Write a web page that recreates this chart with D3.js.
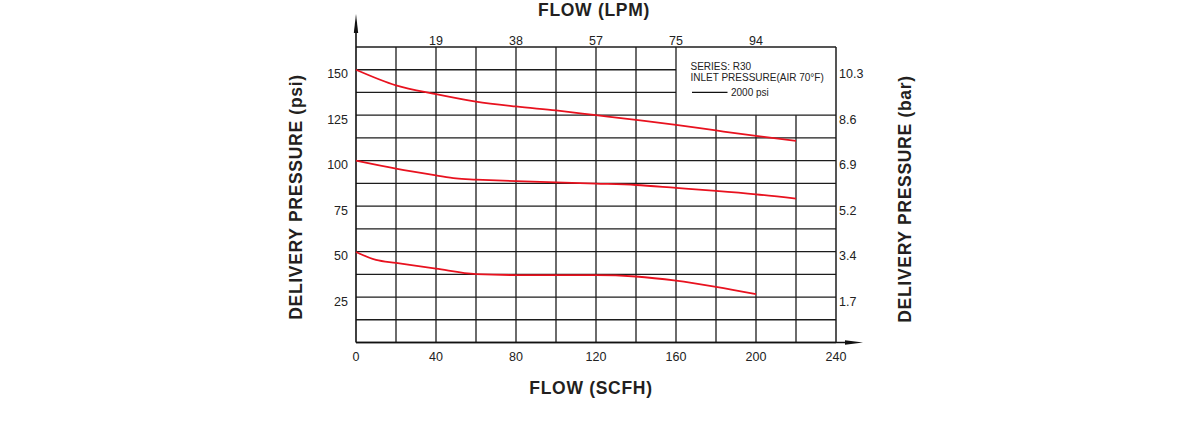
<!DOCTYPE html>
<html>
<head>
<meta charset="utf-8">
<script src="https://cdn.jsdelivr.net/npm/d3@7"></script>
<style>
  html, body { margin: 0; padding: 0; background: #fff; }
  svg { display: block; font-family: "Liberation Sans", Arial, sans-serif; }
</style>
</head>
<body>
<svg id="chart" width="1200" height="430"></svg>
<script>
// ---- data ----
const scfhTicks = [0, 40, 80, 120, 160, 200, 240];
const lpmTickPos = [40, 80, 120, 160, 200];
const lpmTickLabels = ["19", "38", "57", "75", "94"];
const psiTicks = [25, 50, 75, 100, 125, 150];
const barTickLabels = ["1.7", "3.4", "5.2", "6.9", "8.6", "10.3"];

const flowHigh = [0, 20, 40, 60, 80, 100, 120, 140, 160, 180, 200, 220];
const pressure150 = [150, 141.4, 136.6, 132.5, 129.8, 127.6, 125.0, 122.4, 119.7, 116.6, 113.6, 110.9];
const flowMid = [0, 20, 40, 50, 60, 80, 100, 120, 140, 160, 180, 200, 220];
const pressure100 = [100, 95.6, 91.9, 90.2, 89.6, 88.7, 88.1, 87.4, 86.6, 85.0, 83.4, 81.5, 79.1];
const flowLow = [0, 10, 20, 40, 60, 80, 100, 120, 140, 160, 180, 200];
const pressure50 = [49.8, 45.4, 43.8, 40.6, 37.6, 37.1, 37.1, 37.1, 36.3, 34.0, 30.6, 26.6];

const legendLines = ["SERIES: R30", "INLET PRESSURE(AIR 70°F)"];
const legendSeries = "2000 psi";

// ---- layout ----
const svg = d3.select("#chart");
const x = d3.scaleLinear().domain([0, 240]).range([356, 836]);
const y = d3.scaleLinear().domain([0, 162.5]).range([342.5, 47]);
const gridColor = "#1c1c1c";
const red = "#e8121f";

// legend box occupies x >= 160 SCFH, y > 125 psi
const legendX = 160, legendY = 125;

const g = svg.append("g");

// horizontal grid lines
const hLines = d3.range(0, 14).map(i => i * 12.5);
hLines.forEach(v => {
  const xEnd = (v > legendY && v < 162.5) ? x(legendX) : x(240);
  g.append("line")
    .attr("x1", x(0)).attr("x2", xEnd)
    .attr("y1", y(v)).attr("y2", y(v))
    .attr("stroke", gridColor).attr("stroke-width", v === 0 ? 1.6 : 1.3);
});
// vertical grid lines
d3.range(1, 13).map(i => i * 20).forEach(v => {
  const yTop = (v > legendX && v < 240) ? y(legendY) : y(162.5);
  g.append("line")
    .attr("x1", x(v)).attr("x2", x(v))
    .attr("y1", y(0)).attr("y2", yTop)
    .attr("stroke", gridColor).attr("stroke-width", v === 240 ? 1.5 : 1.3);
});

// left axis with arrow
g.append("line").attr("x1", x(0)).attr("x2", x(0))
  .attr("y1", y(0)).attr("y2", y(162.5) - 20)
  .attr("stroke", "#111").attr("stroke-width", 1.6);
g.append("path")
  .attr("d", `M${x(0)},${y(162.5) - 33} L${x(0) - 2.2},${y(162.5) - 14} L${x(0) + 2.2},${y(162.5) - 14} Z`)
  .attr("fill", "#111");
// bottom axis with arrow
g.append("line").attr("x1", x(0)).attr("x2", x(240) + 14)
  .attr("y1", y(0)).attr("y2", y(0))
  .attr("stroke", "#111").attr("stroke-width", 1.6);
g.append("path")
  .attr("d", `M${x(240) + 27},${y(0)} L${x(240) + 9},${y(0) - 2.2} L${x(240) + 9},${y(0) + 2.2} Z`)
  .attr("fill", "#111");

// tick labels
const tickFont = 12.5;
svg.append("g").selectAll("text").data(scfhTicks).join("text")
  .attr("x", d => x(d)).attr("y", 361)
  .attr("text-anchor", "middle").attr("font-size", tickFont).attr("fill", "#222")
  .text(d => d);
svg.append("g").selectAll("text").data(lpmTickPos).join("text")
  .attr("x", d => x(d)).attr("y", 45)
  .attr("text-anchor", "middle").attr("font-size", tickFont).attr("fill", "#222")
  .text((d, i) => lpmTickLabels[i]);
svg.append("g").selectAll("text").data(psiTicks).join("text")
  .attr("x", 348).attr("y", d => y(d) + 8.5)
  .attr("text-anchor", "end").attr("font-size", tickFont).attr("fill", "#222")
  .text(d => d);
svg.append("g").selectAll("text").data(psiTicks).join("text")
  .attr("x", 839).attr("y", d => y(d) + 8.5)
  .attr("text-anchor", "start").attr("font-size", tickFont).attr("fill", "#222")
  .text((d, i) => barTickLabels[i]);

// axis titles
const titleStyle = sel => sel.attr("font-size", 17.5).attr("font-weight", "bold")
  .attr("fill", "#231f20").attr("letter-spacing", 0.7).attr("text-anchor", "middle");
svg.append("text").attr("x", 594).attr("y", 16).call(titleStyle).text("FLOW (LPM)");
svg.append("text").attr("x", 591).attr("y", 394).call(titleStyle).text("FLOW (SCFH)");
svg.append("text").attr("transform", "translate(301.5,197) rotate(-90)").call(titleStyle)
  .text("DELIVERY PRESSURE (psi)");
svg.append("text").attr("transform", "translate(910.5,199) rotate(-90)").call(titleStyle)
  .text("DELIVERY PRESSURE (bar)");

// legend
const lg = svg.append("g").attr("font-size", 10).attr("fill", "#222");
lg.append("text").attr("x", 690.5).attr("y", 69.5).text(legendLines[0]);
lg.append("text").attr("x", 690.5).attr("y", 81).text(legendLines[1]);
lg.append("line").attr("x1", 692).attr("x2", 727.5).attr("y1", 92.3).attr("y2", 92.3)
  .attr("stroke", "#111").attr("stroke-width", 1.3);
lg.append("text").attr("x", 731).attr("y", 95.8).text(legendSeries);

// curves
const line = d3.line().x(d => x(d[0])).y(d => y(d[1])).curve(d3.curveMonotoneX);
const series = [
  d3.zip(flowHigh, pressure150),
  d3.zip(flowMid, pressure100),
  d3.zip(flowLow, pressure50)
];
svg.append("g").selectAll("path").data(series).join("path")
  .attr("d", line).attr("fill", "none").attr("stroke", red).attr("stroke-width", 1.8);
</script>
</body>
</html>
